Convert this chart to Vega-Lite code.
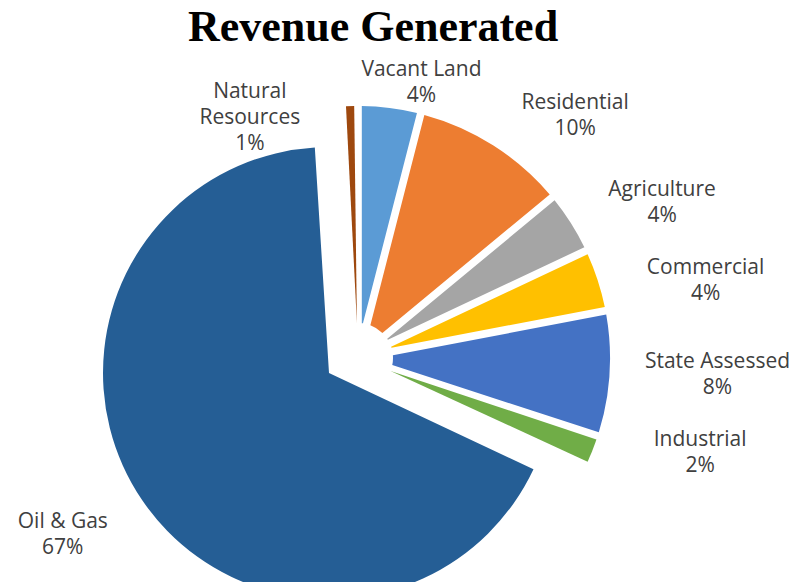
{
  "$schema": "https://vega.github.io/schema/vega-lite/v6.json",
  "autosize": {"type": "none"},
  "width": 716,
  "height": 448,
  "padding": {"left": 0, "top": 134, "right": 88, "bottom": 0},
  "background": "white",
  "config": {"view": {"stroke": null}},
  "title": {
    "text": "Revenue Generated",
    "font": "Liberation Serif",
    "fontSize": 44,
    "fontWeight": "bold",
    "color": "#000000",
    "anchor": "middle",
    "frame": "group",
    "dx": 15,
    "offset": 9
  },
  "data": {
    "values": [
      {"category": "Vacant Land", "value": 4, "order": 1},
      {"category": "Residential", "value": 10, "order": 2},
      {"category": "Agriculture", "value": 4, "order": 3},
      {"category": "Commercial", "value": 4, "order": 4},
      {"category": "State Assessed", "value": 8, "order": 5},
      {"category": "Industrial", "value": 2, "order": 6},
      {"category": "Oil & Gas", "value": 67, "order": 7},
      {"category": "Natural Resources", "value": 1, "order": 8}
    ]
  },
  "transform": [
    {"stack": "value", "groupby": [], "sort": [{"field": "order", "order": "ascending"}], "as": ["start", "end"]},
    {"calculate": "(datum.start + datum.end) / 2", "as": "mid"},
    {"calculate": "replace(datum.category, 'Natural ', 'Natural\\n') + '\\n' + datum.value + '%'", "as": "label"}
  ],
  "layer": [
    {
      "transform": [{"filter": "datum.category !== 'Oil & Gas'"}],
      "mark": {"type": "arc", "innerRadius": 35, "outerRadius": 252, "padAngle": 0.03},
      "encoding": {
        "theta": {"field": "start", "type": "quantitative", "scale": {"domain": [0, 100]}, "stack": null},
        "theta2": {"field": "end"},
        "color": {
          "field": "category", "type": "nominal", "legend": null,
          "scale": {
            "domain": ["Vacant Land", "Residential", "Agriculture", "Commercial", "State Assessed", "Industrial", "Oil & Gas", "Natural Resources"],
            "range": ["#5B9BD5", "#ED7D31", "#A5A5A5", "#FFC000", "#4472C4", "#70AD47", "#255E95", "#9E480E"]
          }
        }
      }
    },
    {
      "transform": [{"filter": "datum.category === 'Oil & Gas'"}],
      "mark": {"type": "arc", "innerRadius": 0, "outerRadius": 226, "xOffset": -29, "yOffset": 15},
      "encoding": {
        "theta": {"field": "start", "type": "quantitative", "scale": {"domain": [0, 100]}, "stack": null},
        "theta2": {"field": "end"},
        "color": {"field": "category", "type": "nominal", "legend": null}
      }
    },
    {
      "transform": [{"filter": {"field": "category", "oneOf": ["Residential", "Agriculture"]}}],
      "mark": {"type": "text", "radius": 282, "dx": 66, "dy": -17, "align": "center", "baseline": "middle", "lineBreak": "\n", "lineHeight": 26, "font": "Open Sans", "fontSize": 21, "color": "#404040"},
      "encoding": {
        "theta": {"field": "mid", "type": "quantitative", "scale": {"domain": [0, 100]}, "stack": null},
        "text": {"field": "label", "type": "nominal"}
      }
    },
    {
      "transform": [{"filter": {"field": "category", "oneOf": ["Commercial", "State Assessed", "Industrial"]}}],
      "mark": {"type": "text", "radius": 254, "dx": 106, "dy": -12, "align": "center", "baseline": "middle", "lineBreak": "\n", "lineHeight": 26, "font": "Open Sans", "fontSize": 21, "color": "#404040"},
      "encoding": {
        "theta": {"field": "mid", "type": "quantitative", "scale": {"domain": [0, 100]}, "stack": null},
        "text": {"field": "label", "type": "nominal"}
      }
    },
    {
      "transform": [{"filter": "datum.category === 'Vacant Land'"}],
      "mark": {"type": "text", "radius": 275, "dx": 29, "dy": -15, "align": "center", "baseline": "middle", "lineBreak": "\n", "lineHeight": 26, "font": "Open Sans", "fontSize": 21, "color": "#404040"},
      "encoding": {
        "theta": {"field": "mid", "type": "quantitative", "scale": {"domain": [0, 100]}, "stack": null},
        "text": {"field": "label", "type": "nominal"}
      }
    },
    {
      "transform": [{"filter": "datum.category === 'Natural Resources'"}],
      "mark": {"type": "text", "radius": 260, "dx": -100, "dy": -6, "align": "center", "baseline": "middle", "lineBreak": "\n", "lineHeight": 26, "font": "Open Sans", "fontSize": 21, "color": "#404040"},
      "encoding": {
        "theta": {"field": "mid", "type": "quantitative", "scale": {"domain": [0, 100]}, "stack": null},
        "text": {"field": "label", "type": "nominal"}
      }
    },
    {
      "transform": [{"filter": "datum.category === 'Oil & Gas'"}],
      "mark": {"type": "text", "radius": 340, "dx": -14, "dy": -27, "align": "center", "baseline": "middle", "lineBreak": "\n", "lineHeight": 26, "font": "Open Sans", "fontSize": 21, "color": "#404040"},
      "encoding": {
        "theta": {"field": "mid", "type": "quantitative", "scale": {"domain": [0, 100]}, "stack": null},
        "text": {"field": "label", "type": "nominal"}
      }
    }
  ]
}
